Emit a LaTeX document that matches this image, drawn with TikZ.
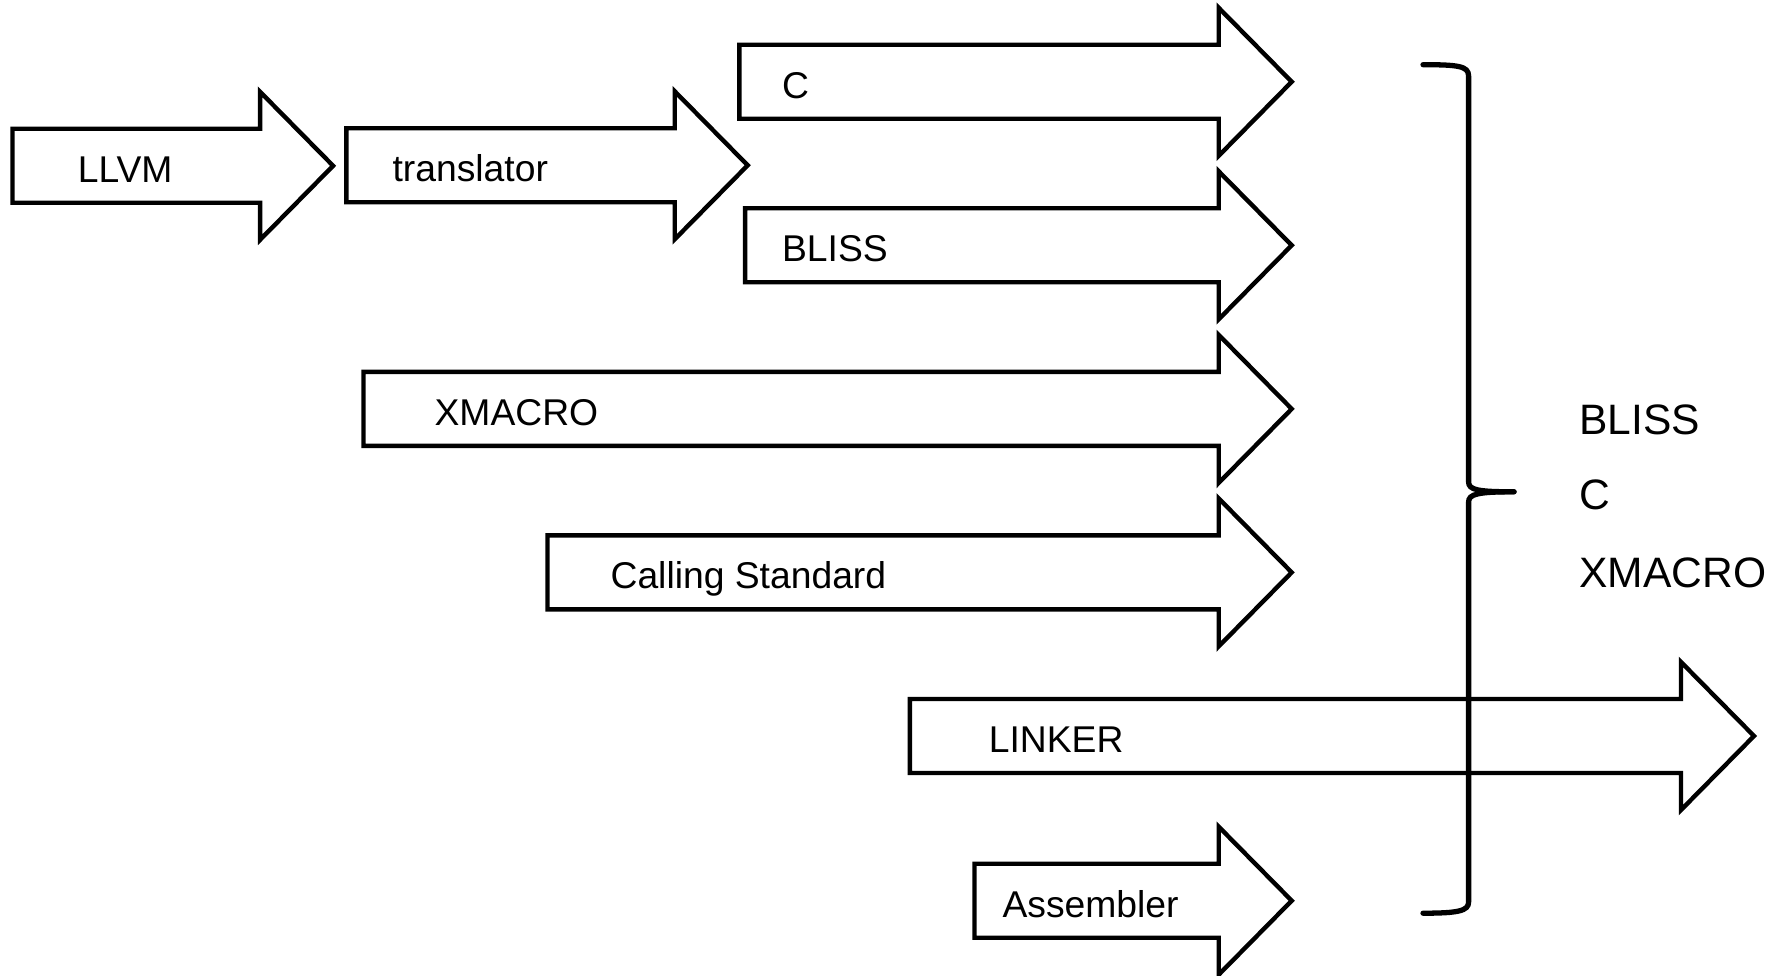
\documentclass[tikz,border=0pt]{standalone}
\usepackage{fontspec}
\setmainfont{Liberation Sans}
\newcommand\bigarr[6]{% name, left, head start, centre y, label, text x
  \draw[arrshape] (#2,#4-37) -- (#3,#4-37) -- (#3,#4-74) -- (#3+73,#4) -- (#3,#4+74) -- (#3,#4+37) -- (#2,#4+37) -- cycle;
  \node[lbl] (#1) at (#6,#4+16.5) {#5};}
\begin{document}
\begin{tikzpicture}[x=0.01cm,y=-0.01cm,
  arrshape/.style={draw=black,fill=white,line width=1.25pt,line join=miter},
  lbl/.style={anchor=base west,inner sep=0pt,font=\fontsize{10.6}{12}\selectfont},
  rlbl/.style={anchor=base west,inner sep=0pt,font=\fontsize{12.1}{14}\selectfont},
  bracestyle/.style={draw=black,line width=1.5pt,line cap=round}]
\useasboundingbox (0,0) rectangle (1781,976);
\bigarr{llvm}{12.5}{260.1}{165.8}{LLVM}{77.2}
\bigarr{translator}{346.4}{674.7}{165.3}{translator}{391.9}
\bigarr{c}{739.4}{1218.7}{81.8}{C}{781.4}
\bigarr{bliss}{745.1}{1218.7}{245.3}{BLISS}{781.4}
\bigarr{xmacro}{363.5}{1218.7}{408.9}{XMACRO}{433.9}
\bigarr{calling}{547.5}{1218.7}{572.4}{Calling Standard}{609.9}
\bigarr{linker}{909.8}{1681}{736}{LINKER}{988.1}
\bigarr{assembler}{974.5}{1218.7}{900.7}{Assembler}{1001.8}
% brace
\coordinate (btop) at (1423,64.7);
\coordinate (btip) at (1514,491.8);
\coordinate (bbot) at (1423,913.2);
\draw[bracestyle] (btop) .. controls (1458,64.7) and (1468.6,66) .. (1468.6,76) -- (1468.6,482)
  .. controls (1468.6,490) and (1478,491.8) .. (btip);
\draw[bracestyle] (btip) .. controls (1478,491.8) and (1468.6,494) .. (1468.6,502) -- (1468.6,902)
  .. controls (1468.6,911) and (1458,913.2) .. (bbot);
\node[rlbl] (rbliss) at (1578.8,434) {BLISS};
\node[rlbl] (rc) at (1578.8,509) {C};
\node[rlbl] (rxmacro) at (1578.8,587.5) {XMACRO};
\end{tikzpicture}
\end{document}
